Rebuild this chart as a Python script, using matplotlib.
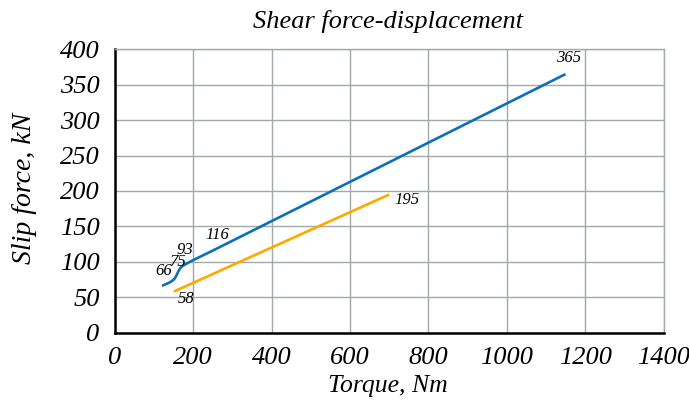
import numpy as np
import matplotlib
matplotlib.use("Agg")
import matplotlib.pyplot as plt
from matplotlib.path import Path
from matplotlib.patches import PathPatch

# ---- data ----
blue_torque = [120, 150, 170, 250, 1150]
blue_force = [66, 75, 93, 116, 365]
orange_torque = [150, 700]
orange_force = [58, 195]

x_ticks = [0, 200, 400, 600, 800, 1000, 1200, 1400]
y_ticks = [0, 50, 100, 150, 200, 250, 300, 350, 400]

title = "Shear force-displacement"
x_label = "Torque, Nm"
y_label = "Slip force, kN"

BLUE = "#0A70BA"
ORANGE = "#FFA800"
GRID = "#A3A8AD"

plt.rcParams['font.family'] = ['Liberation Serif', 'DejaVu Serif']
plt.rcParams['font.style'] = 'italic'

fig = plt.figure(figsize=(6.89, 4.07), dpi=100)
ax = fig.add_axes([0.1669, 0.1826, 0.963 - 0.1669, 0.8789 - 0.1826])
ax.set_xlim(0, 1400)
ax.set_ylim(0, 400)


def smooth_path(xs, ys, tension=0.5):
    """Catmull-Rom style smoothed path built from cubic Bezier segments."""
    xs = np.asarray(xs, float)
    ys = np.asarray(ys, float)
    n = len(xs)
    verts = [(xs[0], ys[0])]
    codes = [Path.MOVETO]
    for i in range(n - 1):
        p0 = np.array([xs[max(i - 1, 0)], ys[max(i - 1, 0)]])
        p1 = np.array([xs[i], ys[i]])
        p2 = np.array([xs[i + 1], ys[i + 1]])
        p3 = np.array([xs[min(i + 2, n - 1)], ys[min(i + 2, n - 1)]])
        c1 = p1 + (p2 - p0) * tension / 3.0
        c2 = p2 - (p3 - p1) * tension / 3.0
        seg = np.linalg.norm(p2 - p1)
        for c, base in ((c1, p1), (c2, p2)):
            d = c - base
            L = np.linalg.norm(d)
            if L > seg / 3 and L > 0:
                c[:] = base + d * (seg / 3) / L
        verts += [tuple(c1), tuple(c2), tuple(p2)]
        codes += [Path.CURVE4] * 3
    return Path(verts, codes)


blue_patch = PathPatch(smooth_path(blue_torque, blue_force), facecolor='none',
                       edgecolor=BLUE, lw=1.9, zorder=3, capstyle='butt')
ax.add_patch(blue_patch)
ax.plot(orange_torque, orange_force, color=ORANGE, lw=1.9, zorder=3,
        solid_capstyle='butt')

# data labels
LBL = 12
blue_offsets = [(1.5, 11), (2.5, 12.5), (2.5, 12), (3, 11), (2.5, 11.5)]
for x, y, off in zip(blue_torque, blue_force, blue_offsets):
    ax.annotate(str(y), (x, y), xytext=off, textcoords='offset points',
                ha='center', va='center', fontsize=LBL, fontstyle='italic',
                color='black')
orange_offsets = [(9, -5.3), (12.5, -3.8)]
for x, y, off in zip(orange_torque, orange_force, orange_offsets):
    ax.annotate(str(y), (x, y), xytext=off, textcoords='offset points',
                ha='center', va='center', fontsize=LBL, fontstyle='italic',
                color='black')

# grid & spines
ax.set_xticks(x_ticks)
ax.set_yticks(y_ticks)
ax.grid(True, color=GRID, lw=1.0)
ax.set_axisbelow(True)
for s in ('top', 'right'):
    ax.spines[s].set_color(GRID)
    ax.spines[s].set_linewidth(1.0)
for s in ('left', 'bottom'):
    ax.spines[s].set_color('black')
    ax.spines[s].set_linewidth(1.8)
ax.tick_params(length=0)
ax.tick_params(axis='x', pad=10)
ax.tick_params(axis='y', pad=11)
ax.set_xticklabels([str(t) for t in x_ticks], fontsize=19, fontstyle='italic')
ax.set_yticklabels([str(t) for t in y_ticks], fontsize=19, fontstyle='italic')

fig.text(0.563, 0.946, title, ha='center', va='center', fontsize=19,
         fontstyle='italic')
fig.text(0.563, 0.052, x_label, ha='center', va='center', fontsize=18.5,
         fontstyle='italic')
fig.text(0.036, 0.537, y_label, ha='center', va='center', fontsize=20,
         fontstyle='italic', rotation=90)

fig.savefig("out.png", dpi=100)
